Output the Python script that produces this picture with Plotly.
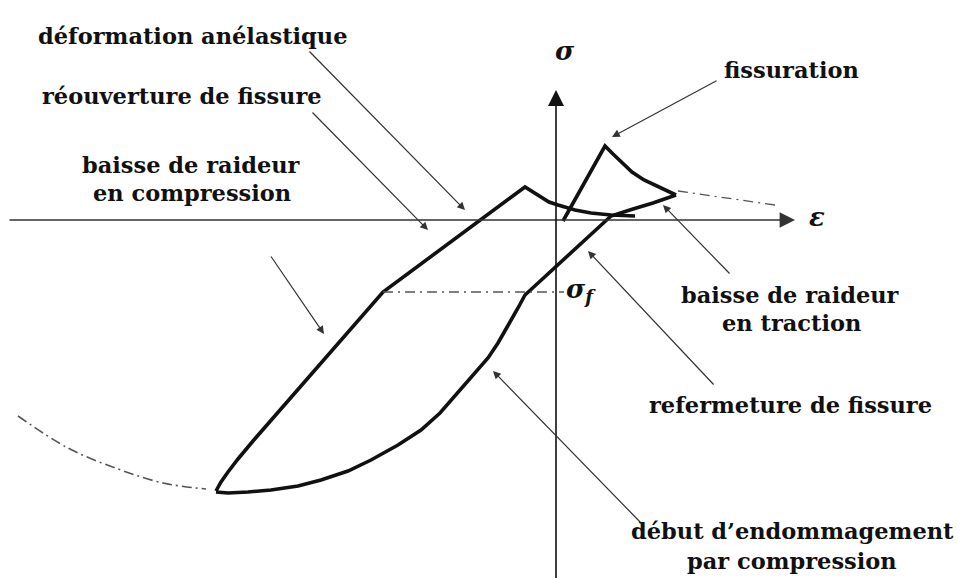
import plotly.graph_objects as go

# diagram units: strain eps to the right, stress sig upward, origin where the axes cross
upper_eps = [-340, -335, -328, -318, -303, -173, -31, -23, -15, -7, 2, 19, 35, 55, 79]
upper_sig = [-271, -262, -252, -239, -221, -72, 33, 28, 22, 18, 15, 10, 7, 5, 4]

lower_eps = [-340, -328, -308, -285, -258, -235, -208, -185, -158, -135, -116, -101,
             -85, -68, -58, -48, -38, -31, 55, 77, 97, 120]
lower_sig = [-272, -273, -272, -270, -266, -260, -251, -240, -225, -210, -193, -176,
             -158, -138, -123, -106, -88, -75, 4, 11, 17, 25]

crack_eps = [120, 102, 88, 76, 66, 57, 49, 7]
crack_sig = [25, 33, 40, 48, 57, 66, 74, -1]

sigf_eps = [-173, 8]
sigf_sig = [-72, -72]

tail_eps = [122, 219]
tail_sig = [29, 15]

comp_eps = [-538, -488, -438, -393, -350]
comp_sig = [-196, -228, -249, -263, -269]

eps_min, eps_max = -548, 414
sig_min, sig_max = -366, 212
eps_arrow_tip = 239
sig_arrow_tip = 130

# (eps, sig of leader start) -> (eps, sig of arrow tip)
leaders = [
    (-248, 170, -91, 10),
    (-245, 109, -128, -10),
    (-286, -35, -232, -114),
    (162, 140, 56, 83),
    (175, -55, 107, 15),
    (159, -166, 32, -31),
    (87, -305, -63, -151),
]

labels = [
    ("déformation anélastique", -363, 184),
    ("réouverture de fissure", -374, 124),
    ("baisse de raideur", -365, 55),
    ("en compression", -364, 27),
    ("fissuration", 235, 150),
    ("baisse de raideur", 234, -75),
    ("en traction", 235, -103),
    ("refermeture de fissure", 234, -185),
    ("début d’endommagement", 236, -311),
    ("par compression", 236, -341),
]

serif = "DejaVu Serif"
black = "#111111"
grey = "#555555"

fig = go.Figure()

for xs, ys in [(upper_eps, upper_sig), (lower_eps, lower_sig), (crack_eps, crack_sig)]:
    fig.add_trace(go.Scatter(x=xs, y=ys, mode="lines",
                             line=dict(color=black, width=3.6),
                             hoverinfo="skip"))

for xs, ys in [(sigf_eps, sigf_sig), (tail_eps, tail_sig)]:
    fig.add_trace(go.Scatter(x=xs, y=ys, mode="lines",
                             line=dict(color=grey, width=1.3, dash="10px,5px,2px,5px"),
                             hoverinfo="skip"))

fig.add_trace(go.Scatter(x=comp_eps, y=comp_sig, mode="lines",
                         line=dict(color=grey, width=1.6, dash="10px,4px,2px,4px",
                                   shape="spline"),
                         hoverinfo="skip"))

# axes
fig.add_annotation(x=eps_arrow_tip, y=0, ax=eps_min, ay=0, xref="x", yref="y",
                   axref="x", ayref="y", text="", showarrow=True, arrowhead=2,
                   arrowsize=2.2, arrowwidth=1.4, arrowcolor="#333333")
fig.add_annotation(x=0, y=sig_arrow_tip, ax=0, ay=sig_min, xref="x", yref="y",
                   axref="x", ayref="y", text="", showarrow=True, arrowhead=2,
                   arrowsize=2.0, arrowwidth=1.6, arrowcolor=black)

for ax_, ay_, x_, y_ in leaders:
    fig.add_annotation(x=x_, y=y_, ax=ax_, ay=ay_, xref="x", yref="y",
                       axref="x", ayref="y", text="", showarrow=True, arrowhead=2,
                       arrowsize=1.3, arrowwidth=1.2, arrowcolor="#333333")

label_font = dict(family=serif, size=22.5, color=black, weight="bold")
for txt, x_, y_ in labels:
    fig.add_annotation(x=x_, y=y_, xref="x", yref="y", text=txt, showarrow=False,
                       xanchor="center", yanchor="middle", font=label_font)

sym_font = dict(family=serif, size=26, color=black, weight="bold", style="italic")
fig.add_annotation(x=9, y=169, text="σ", showarrow=False, font=sym_font)
fig.add_annotation(x=261, y=3, text="ε", showarrow=False, font=sym_font)
fig.add_annotation(x=8, y=-70, text="σ<sub>f</sub>", showarrow=False, xanchor="left",
                   font=sym_font)

fig.update_layout(
    width=962, height=578, autosize=False,
    margin=dict(l=0, r=0, t=0, b=0),
    paper_bgcolor="white", plot_bgcolor="white",
    showlegend=False,
    xaxis=dict(range=[eps_min, eps_max], visible=False, fixedrange=True),
    yaxis=dict(range=[sig_min, sig_max], visible=False, fixedrange=True),
)

fig.write_html("out.html")
